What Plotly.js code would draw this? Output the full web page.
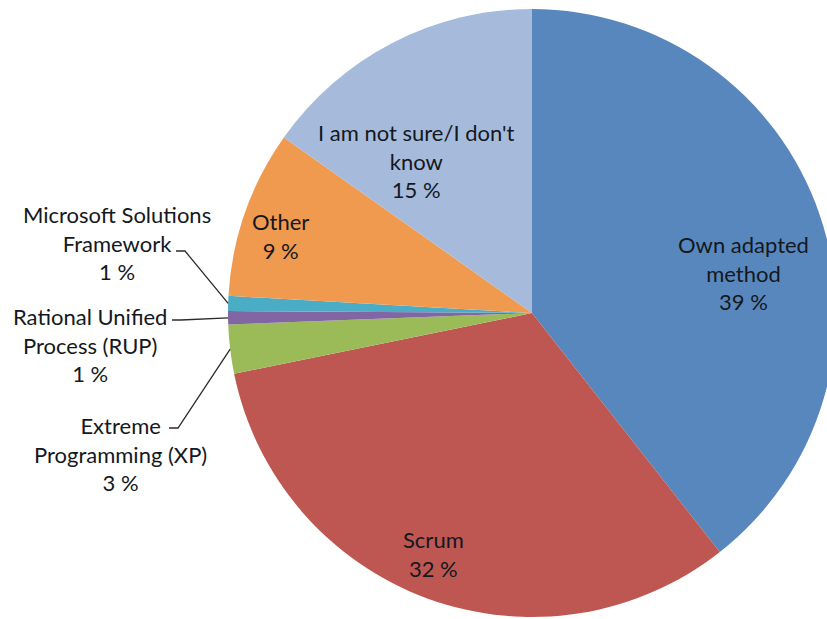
<!DOCTYPE html>
<html>
<head>
<meta charset="utf-8">
<script src="https://cdn.plot.ly/plotly-3.0.1.min.js"></script>
<style>
  html, body { margin: 0; padding: 0; overflow: hidden; background: #fff; }
  #chart { width: 1064px; height: 619px; }
</style>
</head>
<body>
<div id="chart"></div>
<script>
// ---- data ----
const categories = [
  "Own adapted method",
  "Scrum",
  "Extreme Programming (XP)",
  "Rational Unified Process (RUP)",
  "Microsoft Solutions Framework",
  "Other",
  "I am not sure/I don't know"
];
const labelLines = [
  ["Own adapted", "method"],
  ["Scrum"],
  ["Extreme", "Programming (XP)"],
  ["Rational Unified", "Process (RUP)"],
  ["Microsoft Solutions", "Framework"],
  ["Other"],
  ["I am not sure/I don't", "know"]
];
const shares = [39.4, 32.4, 2.6, 0.7, 0.8, 8.9, 15.2];
const colors = ["#5887BD", "#BE5752", "#9BBB59", "#8166A3", "#4BACC6", "#EF9A4E", "#A6BBDB"];

// ---- geometry (pixels) ----
const W = 1064, H = 619;
const cx = 532, cy = 313, R = 304;
const px = x => x / W;
const py = y => (H - y) / H;

// label placement (pixel centre of the label block) and leader-line starts
const labelPos = [
  [743, 273], [433, 554], [120, 454], [90, 345], [117, 243], [280, 236], [416, 161]
];
const leaderStart = { 2: [169, 428], 3: [172, 320], 4: [176, 251] };

const total = shares.reduce((a, b) => a + b, 0);
const cum = [];
shares.reduce((acc, v, i) => { cum[i] = acc + v / 2; return acc + v; }, 0);

const font = { family: "Lato, 'Noto Sans', sans-serif", size: 22, color: "#141821" };

const annotations = categories.map((c, i) => {
  const txt = labelLines[i].concat([Math.round(shares[i]) + " %"]).join("<br>");
  return {
    xref: "paper", yref: "paper",
    x: px(labelPos[i][0]), y: py(labelPos[i][1]),
    xanchor: "center", yanchor: "middle",
    text: txt, showarrow: false, align: "center",
    font: font
  };
});

const shapes = Object.keys(leaderStart).map(k => {
  const i = +k;
  const theta = cum[i] / total * 2 * Math.PI; // clockwise from top
  const tx = cx + R * Math.sin(theta);
  const ty = cy - R * Math.cos(theta);
  const [sx, sy] = leaderStart[i];
  return {
    type: "path", xref: "paper", yref: "paper",
    path: `M ${px(sx)} ${py(sy)} L ${px(sx + 9)} ${py(sy)} L ${px(tx)} ${py(ty)}`,
    line: { color: "#2b2b2b", width: 1.3 }
  };
});

const trace = {
  type: "pie",
  labels: categories,
  values: shares,
  sort: false,
  direction: "clockwise",
  rotation: 0,
  textinfo: "none",
  hoverinfo: "label+percent",
  marker: { colors: colors, line: { width: 0 } },
  domain: { x: [0, 1], y: [py(cy + R), py(cy - R)] },
  showlegend: false
};

const layout = {
  width: W, height: H,
  margin: { l: 0, r: 0, t: 0, b: 0, pad: 0 },
  paper_bgcolor: "#ffffff",
  showlegend: false,
  annotations: annotations,
  shapes: shapes
};

Plotly.newPlot("chart", [trace], layout, { displayModeBar: false, staticPlot: true });
</script>
</body>
</html>
